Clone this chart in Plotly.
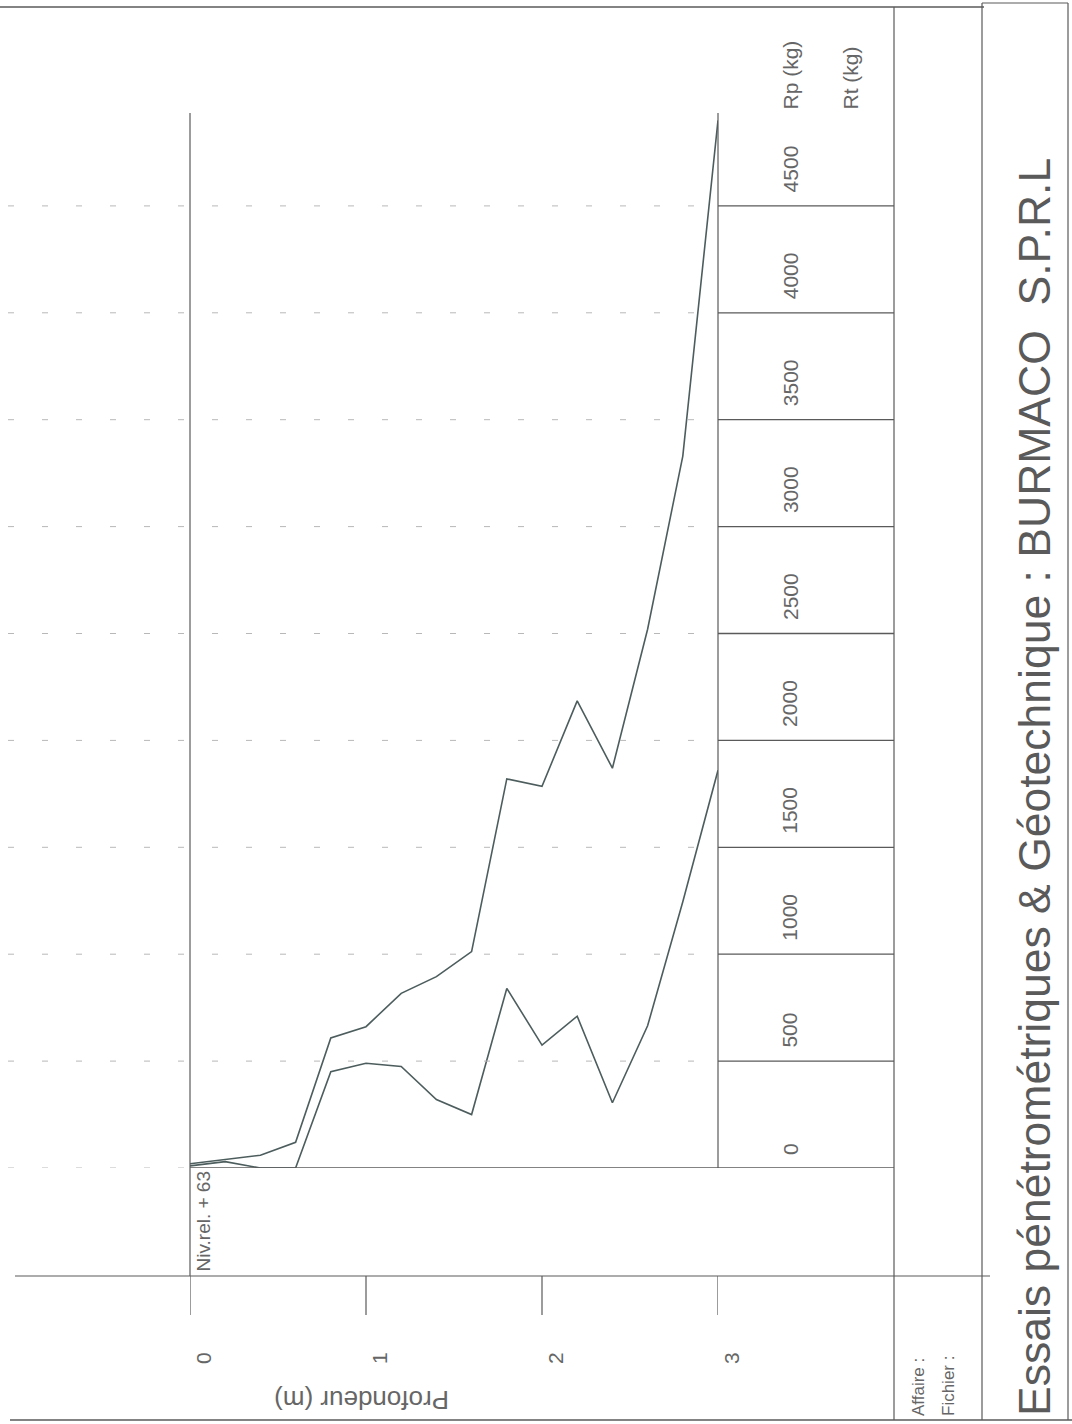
import plotly.graph_objects as go

# ---------------- data ----------------
depth_m = [0.0, 0.2, 0.4, 0.6, 0.8, 1.0, 1.2, 1.4, 1.6, 1.8, 2.0, 2.2, 2.4, 2.6, 2.8, 3.0]
rp_kg = [20, 40, 60, 120, 608, 661, 817, 895, 1012, 1820, 1785, 2185, 1870, 2520, 3330, 4900]
rt_kg = [10, 30, 0, 0, 450, 490, 475, 320, 250, 840, 575, 710, 305, 665, 1245, 1860]

force_ticks = [0, 500, 1000, 1500, 2000, 2500, 3000, 3500, 4000, 4500]
depth_ticks = [0, 1, 2, 3]
depth_labels = ["0", "1", "2", "3"]

W, H = 1072, 1424


def X(px):
    return px / W


def Y(py):
    return 1 - py / H


FONT = "Liberation Sans, Arial, sans-serif"
TXT = "#666666"
LINE = "#5a5a5a"
CURVE = "#4d5d5d"
GRID = "#b8b8b8"

y_top = (1168 - 113) / 106.9 * 500

fig = go.Figure()
fig.add_trace(go.Scatter(x=depth_m, y=rp_kg, mode="lines", name="Rp (kg)",
                         line=dict(color=CURVE, width=1.6), cliponaxis=False))
fig.add_trace(go.Scatter(x=depth_m, y=rt_kg, mode="lines", name="Rt (kg)",
                         line=dict(color=CURVE, width=1.6), cliponaxis=False))

shapes = []


def pline(x0, y0, x1, y1, color=LINE, width=1.2, dash=None):
    d = dict(type="line", xref="paper", yref="paper",
             x0=X(x0), y0=Y(y0), x1=X(x1), y1=Y(y1),
             line=dict(color=color, width=width))
    if dash:
        d["line"]["dash"] = dash
    shapes.append(d)


# dashed grid lines (extend to the left of the plot)
for f in force_ticks[1:]:
    shapes.append(dict(type="line", xref="paper", yref="y", x0=X(8), x1=X(718), y0=f, y1=f,
                       line=dict(color=GRID, width=1, dash="6px,28px")))
shapes.append(dict(type="line", xref="paper", yref="y", x0=X(8), x1=X(190), y0=0, y1=0,
                   line=dict(color=GRID, width=1, dash="6px,28px")))
# solid tick segments in the force scale box
for f in force_ticks:
    shapes.append(dict(type="line", xref="paper", yref="y", x0=X(718), x1=X(894), y0=f, y1=f,
                       line=dict(color=LINE, width=1.3)))
# zero line across plot
shapes.append(dict(type="line", xref="paper", yref="y", x0=X(190), x1=X(718), y0=0, y1=0,
                   line=dict(color=LINE, width=1.3)))

# frame lines
pline(0, 7, 984, 7, width=1.6)          # top border
pline(10, 1420, 1072, 1420, width=1.6)  # bottom border
pline(190, 113, 190, 1276)              # left plot edge (depth 0)
pline(718, 113, 718, 1168)              # right plot edge (depth 3)
pline(894, 7, 894, 1420)                # right edge of scale box
pline(15, 1276, 990, 1276)              # horizontal divider
pline(982, 3, 982, 1420)                # title box
pline(1068, 3, 1068, 1420)
pline(982, 3, 1068, 3)

# depth ticks
for d in depth_ticks:
    shapes.append(dict(type="line", xref="x", yref="paper", x0=d, x1=d, y0=Y(1276), y1=Y(1315),
                       line=dict(color=LINE, width=1.2)))

annotations = []


def ann(text, x, y, size, angle=-90, xanchor="center", yanchor="middle", xref="paper", yref="paper",
        xshift=0, yshift=0, color=TXT):
    annotations.append(dict(text=text, x=x, y=y, xref=xref, yref=yref, showarrow=False,
                            textangle=angle, xanchor=xanchor, yanchor=yanchor,
                            xshift=xshift, yshift=yshift,
                            font=dict(family=FONT, size=size, color=color)))


for f in force_ticks:
    ann(str(f), X(790), f, 21, yref="y", yanchor="bottom", yshift=11)
ann("Rp (kg)", X(790), Y(112), 21, yanchor="bottom")
ann("Rt (kg)", X(850), Y(112), 21, yanchor="bottom")

for d, lab in zip(depth_ticks, depth_labels):
    ann(lab, d, Y(1358), 21, xref="x", xshift=13)

ann("Profondeur (m)", X(362), Y(1400), 26, angle=180)
ann("Niv.rel. + 63", X(203), Y(1274), 19, yanchor="bottom")
ann("Affaire :", X(918), Y(1418), 17, yanchor="bottom")
ann("Fichier :", X(948), Y(1418), 17, yanchor="bottom")
ann("Essais pénétrométriques &amp; Géotechnique : BURMACO  S.P.R.L", X(1034), Y(1418), 44.5,
    yanchor="bottom", color="#5a5a5a")

fig.update_layout(
    width=W, height=H,
    margin=dict(l=0, r=0, t=0, b=0),
    paper_bgcolor="white", plot_bgcolor="white",
    showlegend=False,
    xaxis=dict(domain=[X(190), X(718)], range=[0, 3], visible=False, fixedrange=True),
    yaxis=dict(domain=[Y(1168), Y(113)], range=[0, y_top], visible=False, fixedrange=True),
    shapes=shapes,
    annotations=annotations,
)

fig.write_html("out.html")
